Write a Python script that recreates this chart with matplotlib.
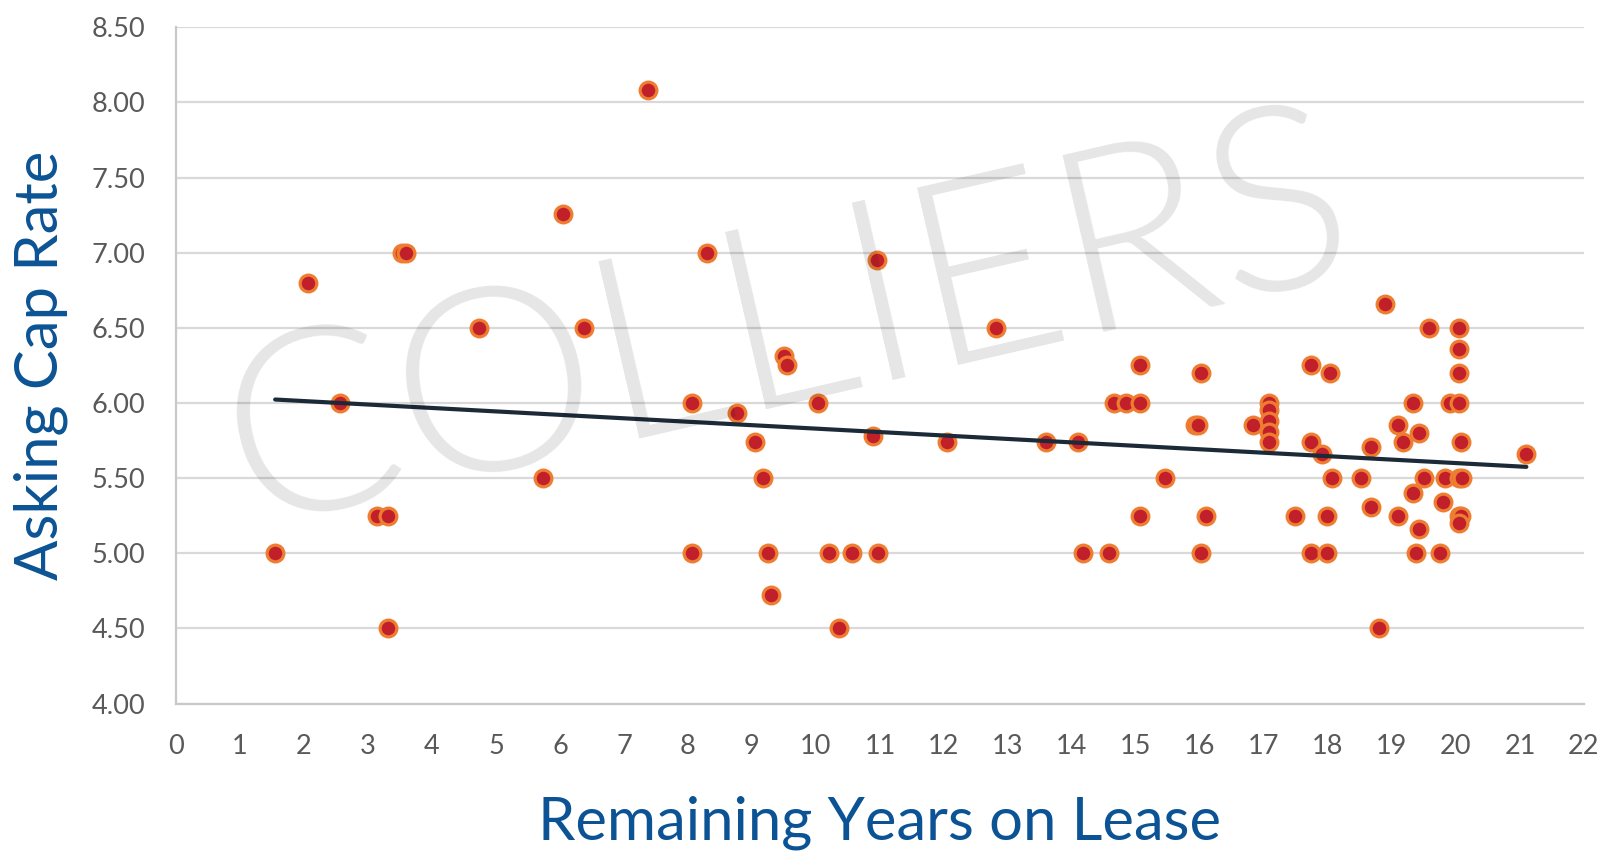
import numpy as np
import matplotlib
matplotlib.use("Agg")
import matplotlib.pyplot as plt

years = [1.55, 2.06, 2.56, 3.14, 3.31, 3.31, 3.53, 3.59, 4.73, 5.73, 6.04, 6.38, 7.38,
         8.06, 8.06, 8.30, 8.77, 9.05, 9.17, 9.25, 9.29, 9.50, 9.54, 10.03, 10.20, 10.36,
         10.56, 10.89, 10.96, 10.97, 12.04, 12.82, 13.60, 14.09, 14.18, 14.58, 14.66, 14.84,
         15.07, 15.07, 15.07, 15.45, 15.92, 15.97, 16.02, 16.02, 16.10, 16.83, 17.08, 17.08,
         17.08, 17.08, 17.08, 17.49, 17.74, 17.74, 17.74, 17.90, 17.98, 17.98, 18.03, 18.07,
         18.52, 18.68, 18.68, 18.80, 18.89, 19.09, 19.09, 19.18, 19.33, 19.33, 19.38, 19.42,
         19.42, 19.50, 19.58, 19.75, 19.79, 19.83, 19.90, 20.04, 20.04, 20.04, 20.04, 20.08,
         20.04, 20.09, 20.04, 20.08, 20.04, 21.10]
cap_rate = [5.00, 6.80, 6.00, 5.25, 5.25, 4.50, 7.00, 7.00, 6.50, 5.50, 7.26, 6.50, 8.08,
            6.00, 5.00, 7.00, 5.93, 5.74, 5.50, 5.00, 4.72, 6.31, 6.25, 6.00, 5.00, 4.50,
            5.00, 5.78, 6.95, 5.00, 5.74, 6.50, 5.74, 5.74, 5.00, 5.00, 6.00, 6.00,
            6.00, 6.25, 5.25, 5.50, 5.85, 5.85, 6.20, 5.00, 5.25, 5.85, 6.00, 5.95,
            5.88, 5.81, 5.74, 5.25, 6.25, 5.74, 5.00, 5.66, 5.25, 5.00, 6.20, 5.50,
            5.50, 5.71, 5.31, 4.50, 6.66, 5.85, 5.25, 5.74, 6.00, 5.40, 5.00, 5.80,
            5.16, 5.50, 6.50, 5.00, 5.34, 5.50, 6.00, 6.50, 6.36, 6.20, 6.00, 5.74,
            5.50, 5.50, 5.25, 5.25, 5.20, 5.66]

x_ticks = list(range(0, 23))
y_ticks = [4.0, 4.5, 5.0, 5.5, 6.0, 6.5, 7.0, 7.5, 8.0, 8.5]

FONT = ["Lato", "DejaVu Sans"]
BLUE = "#0b5394"

fig = plt.figure(figsize=(16.04, 8.51), dpi=100)
ax = fig.add_axes([0.1097, 0.1733, 0.8778, 0.7947])

ax.set_xlim(0, 22)
ax.set_ylim(4.0, 8.5)
ax.set_xticks(x_ticks)
ax.set_yticks(y_ticks)
ax.set_xticklabels([str(t) for t in x_ticks], fontfamily=FONT, fontsize=19.5, color="#595959")
ax.set_yticklabels([f"{t:.2f}" for t in y_ticks], fontfamily=FONT, fontsize=19.5, color="#595959")
ax.tick_params(axis="both", length=0)
ax.tick_params(axis="x", pad=22)
ax.tick_params(axis="y", pad=22)

ax.grid(axis="y", color="#d9d9d9", linewidth=1.6, zorder=0)
ax.set_axisbelow(True)
for s in ["top", "right"]:
    ax.spines[s].set_visible(False)
for s in ["left", "bottom"]:
    ax.spines[s].set_color("#c8c8c8")
    ax.spines[s].set_linewidth(1.6)

ax.scatter(years, cap_rate, s=145, c="#c1202a", edgecolors="#ee7d31", linewidths=2.3, zorder=3)

coef = np.polyfit(years, cap_rate, 1)
xs = np.array([min(years), max(years)])
ax.plot(xs, np.polyval(coef, xs), color="#1c2a38", linewidth=3.0, zorder=4, solid_capstyle="round")

ax.text(0.435, 0.555, "COLLIERS", transform=ax.transAxes, rotation=13, fontsize=185,
        fontfamily=FONT, fontweight=300, color="black", alpha=0.1,
        ha="center", va="center", zorder=5)

ax.set_xlabel("Remaining Years on Lease", fontfamily=FONT, fontsize=43, color=BLUE, labelpad=26)
ax.set_ylabel("Asking Cap Rate", fontfamily=FONT, fontsize=43, color=BLUE, labelpad=17)

fig.savefig("out.png", dpi=100)
